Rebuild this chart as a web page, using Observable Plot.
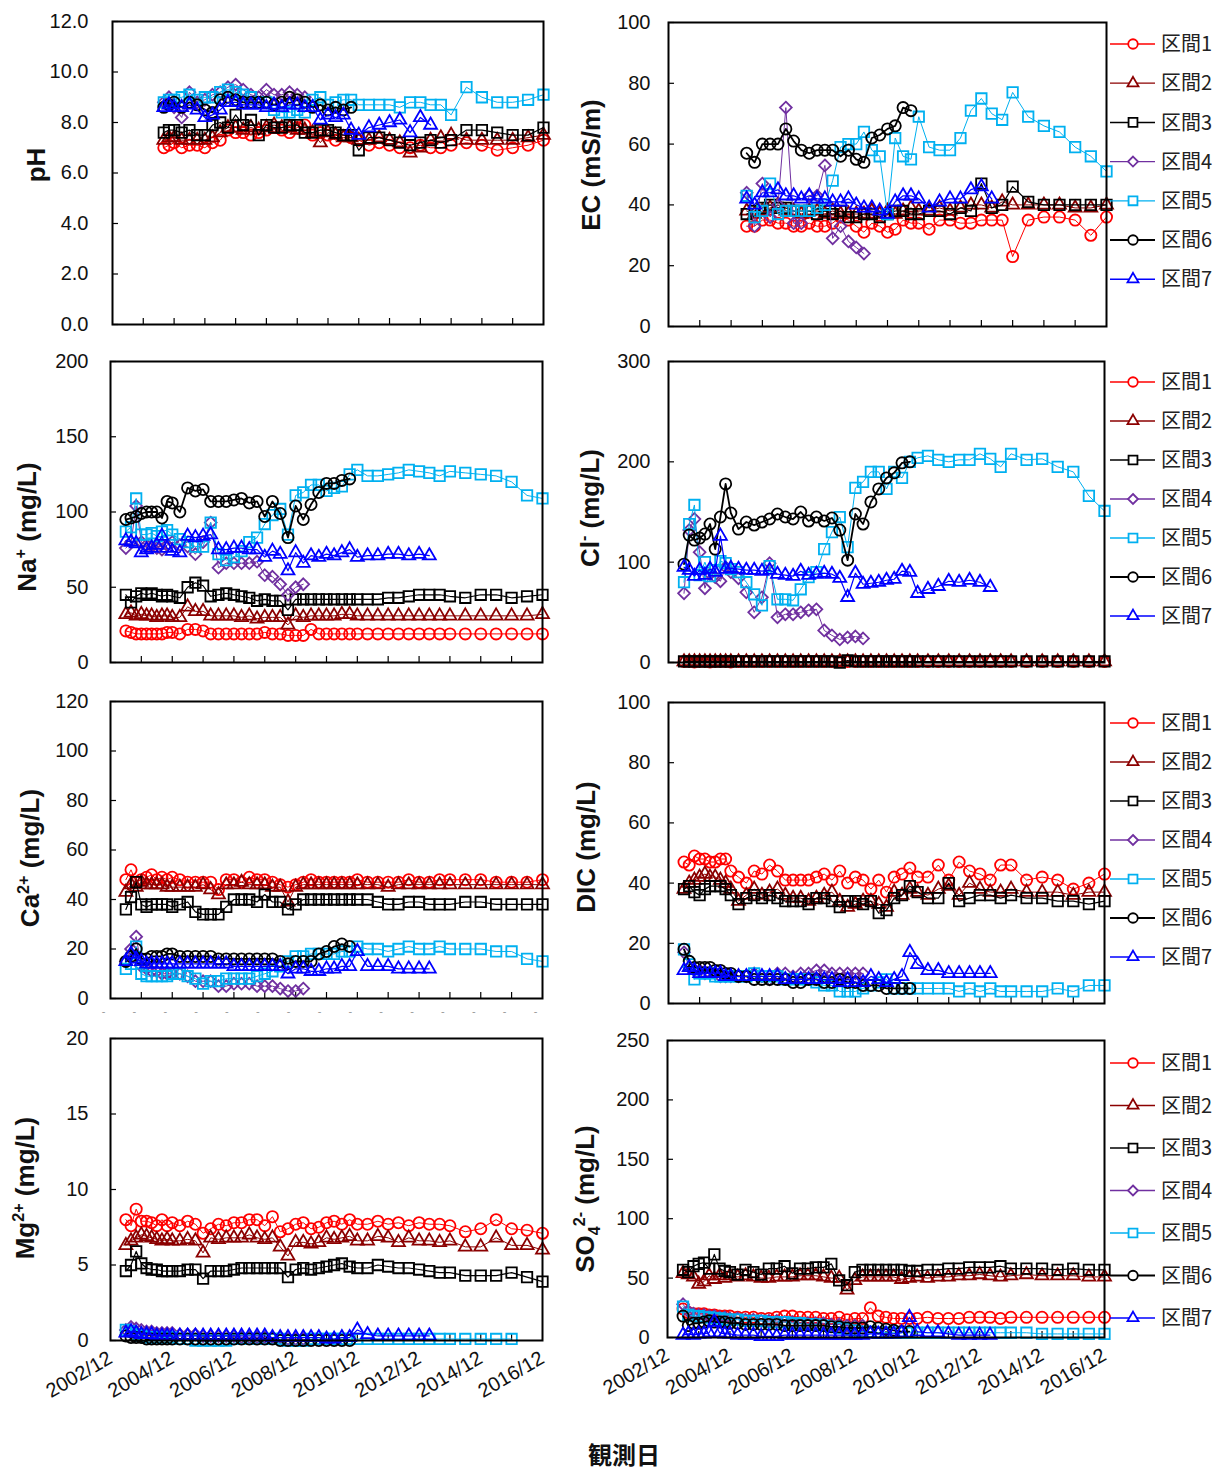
<!DOCTYPE html>
<html><head><meta charset="utf-8">
<script src="https://cdn.jsdelivr.net/npm/d3@7"></script>
<script src="https://cdn.jsdelivr.net/npm/@observablehq/plot@0.6"></script>
<style>
body{margin:0;background:#fff;}
#root{position:relative;width:1224px;height:1470px;background:#fff;overflow:hidden;}
.pl{position:absolute;overflow:visible;}
.yt{position:absolute;white-space:nowrap;line-height:1;font:bold 26px "Liberation Sans",Arial,sans-serif;color:#111;transform:translate(-50%,-50%) rotate(-90deg);}
.yt sup,.yt sub{font-size:0.62em;}
</style></head><body><div id="root"></div>
<script>
// ---- sampling dates (shared) ----
const sampleDates = ["2003-06","2003-08","2003-10","2003-12","2004-02","2004-04","2004-06","2004-08","2004-10","2004-12",
"2005-03","2005-06","2005-09","2005-12","2006-03","2006-06","2006-09","2006-12","2007-03","2007-06",
"2007-09","2007-12","2008-03","2008-06","2008-09","2008-12","2009-03","2009-06","2009-09","2009-12",
"2010-03","2010-06","2010-09","2010-12","2011-04","2011-08","2011-12","2012-04","2012-08","2012-12",
"2013-04","2013-08","2013-12","2014-06","2014-12","2015-06","2015-12","2016-06","2016-12"];
const series = ["区間1","区間2","区間3","区間4","区間5","区間6","区間7"];
const xTickLabels = ["2002/12","2004/12","2006/12","2008/12","2010/12","2012/12","2014/12","2016/12"];
const yearTickLabels = ["2002/12","2003/12","2004/12","2005/12","2006/12","2007/12","2008/12","2009/12","2010/12","2011/12","2012/12","2013/12","2014/12","2015/12","2016/12"];

// ---- pH (starts at sample index 7) ----
const ph_start = 7;
const ph_1 = [7.0,7.1,7.2,7.0,7.1,7.1,7.0,7.2,7.3,7.7,7.6,7.6,7.5,7.6,7.7,7.8,7.7,7.6,7.8,7.9,7.5,7.6,7.5,7.3,7.5,7.4,7.3,7.1,7.2,7.1,7.0,7.0,7.1,7.0,7.0,7.1,7.2,7.1,6.9,7.0,7.1,7.3];
const ph_2 = [7.3,7.4,7.4,7.3,7.3,7.3,7.3,7.4,7.6,7.8,7.8,7.7,7.8,7.7,7.8,7.9,7.8,7.8,7.7,7.7,7.6,7.2,7.6,7.5,7.4,7.4,7.3,7.3,7.4,7.3,7.2,6.8,7.0,7.3,7.4,7.5,7.3,7.3,7.3,7.3,7.4,7.5];
const ph_3 = [7.6,7.7,7.7,7.6,7.7,7.5,7.5,7.9,8.0,7.8,8.3,7.9,8.1,7.5,7.9,7.8,7.8,7.9,7.9,7.6,7.6,7.7,7.7,7.6,7.5,7.5,6.9,7.4,7.4,7.3,7.2,7.1,7.2,7.3,7.2,7.3,7.7,7.7,7.6,7.5,7.5,7.8];
const ph_4 = [8.8,9.0,8.6,8.2,9.2,8.8,8.9,9.1,9.2,9.4,9.5,9.3,9.1,9.0,9.3,9.1,9.1,9.2,9.1,9.0];
const ph_5 = [8.8,8.9,8.9,9.0,9.1,8.9,9.0,9.0,9.2,9.3,9.2,9.1,9.0,8.8,8.8,8.5,8.4,8.4,8.5,8.4,8.9,9.0,8.7,8.8,8.9,8.9,8.7,8.7,8.7,8.7,8.6,8.8,8.8,8.7,8.7,8.3,9.4,9.0,8.8,8.8,8.9,9.1];
const ph_6 = [8.6,8.7,8.8,8.6,8.8,8.7,8.5,8.4,8.9,9.0,8.9,8.8,8.8,8.8,8.8,8.7,8.8,9.0,8.9,8.8,8.6,8.7,8.5,8.6,8.5,8.6];
const ph_7 = [8.6,8.7,8.6,8.6,8.7,8.5,8.2,8.3,8.5,8.8,8.8,8.7,8.7,8.7,8.6,8.7,8.6,8.7,8.7,8.6,8.6,8.1,8.3,8.2,8.3,7.7,7.5,7.8,7.9,8.0,8.1,7.6,8.2,7.9];

// ---- EC (starts at sample index 11) ----
const ec_start = 11;
const ec_1 = [33,33,35,35,34,34,33,33,34,33,33,34,36,35,33,31,34,33,31,32,35,34,34,32,35,35,34,34,35,35,35,23,35,36,36,35,30,36];
const ec_2 = [38,37,38,39,40,38,38,37,38,38,37,38,37,37,37,37,38,37,38,37,38,39,38,38,39,38,39,40,40,39,41,40,40,40,40,39,39,40];
const ec_3 = [37,38,39,40,39,39,38,38,38,37,38,37,38,36,36,37,37,36,37,38,38,37,37,38,38,37,39,38,47,39,40,46,41,40,40,40,40,40];
const ec_4 = [44,33,47,36,40,72,34,34,43,43,53,29,33,28,26,24];
const ec_5 = [43,36,38,47,37,38,38,38,38,39,40,48,59,60,60,64,58,56,37,62,56,55,69,59,58,58,62,71,75,70,68,77,69,66,64,59,56,51];
const ec_6 = [57,54,60,60,60,65,61,58,57,58,58,58,56,58,55,54,62,63,65,66,72,71];
const ec_7 = [42,40,44,44,45,43,43,42,43,42,42,41,41,42,40,39,39,38,37,41,43,43,42,39,41,42,42,45,46,42];

// ---- Na+ ----
const na_1 = [21,20,19,19,19,19,19,19,20,20,19,22,22,21,19,19,19,19,19,19,19,20,19,19,18,18,18,22,19,19,19,19,19,19,19,19,19,19,19,19,19,19,19,19,19,19,19,19,19];
const na_2 = [32,33,31,32,31,31,30,31,31,30,30,37,34,34,31,31,31,31,30,31,29,30,30,30,25,31,30,31,31,31,31,32,32,31,31,31,31,31,31,31,31,31,31,31,31,31,31,31,32];
const na_3 = [45,40,44,46,45,46,45,44,45,44,43,50,53,51,44,45,46,45,44,43,41,42,41,41,35,42,42,42,42,42,42,42,42,42,42,42,43,43,44,45,45,45,44,43,45,45,43,44,45];
const na_4 = [76,80,104,80,78,77,76,75,78,80,78,77,72,80,93,63,66,66,66,66,67,58,57,52,45,50,52];
const na_5 = [87,90,109,85,85,86,84,87,88,85,82,80,77,77,93,72,68,70,74,80,83,92,98,102,85,111,113,118,118,114,116,117,125,128,124,124,125,126,128,127,126,124,127,126,125,124,120,111,109];
const na_6 = [95,96,97,99,100,100,100,96,107,106,100,116,114,115,107,107,107,108,109,106,107,97,107,99,83,104,95,105,113,119,119,121,122];
const na_7 = [81,80,79,73,75,76,78,84,76,74,73,84,83,84,85,75,75,76,76,75,75,70,74,72,61,73,66,71,70,72,71,73,75,70,71,71,72,72,71,72,71];

// ---- Cl- ----
const cl_1 = [1,1,0.5,1,1,0.5,1,1,1,0.5,1,1,1,1,1,1,1,1,1,1,1,1,1,1,1,1,1,1,1,1,1,1,1,1,1,1,1,1,1,1,1,1,1,1,1,1,1,1,1];
const cl_2 = [0.8,0.8,0.8,0.8,0.8,0.8,0.8,0.8,0.8,0.8,0.8,0.8,0.8,0.8,0.8,0.8,0.8,0.8,0.8,0.8,0.8,0.8,0.8,0.8,0.8,0.8,0.8,0.8,0.8,0.8,0.8,0.8,0.8,0.8,0.8,0.8,0.8,0.8,0.8,0.8,0.8,0.8,0.8,0.8,0.8,0.8,0.8,0.8,0.8];
const cl_3 = [1,1,1,1,1,1,1,1,1,1,1,1,1,1,1,1,1,1,1,1,1,1,1,0,2,1,1,1,1,1,1,1,1,1,1,1,1,1,1,1,1,1,1,1,1,1,1,1,1];
const cl_4 = [69,132,143,110,74,88,85,81,95,90,84,70,50,65,99,45,48,48,50,52,53,32,27,23,25,26,24];
const cl_5 = [80,138,157,87,100,86,92,101,99,93,90,80,68,57,96,63,63,62,73,85,90,113,130,145,115,174,180,190,190,173,190,184,200,204,206,202,200,202,202,208,203,195,208,202,203,195,190,166,151];
const cl_6 = [98,127,122,124,128,138,113,145,178,149,133,140,137,140,143,148,145,143,150,141,145,141,144,132,102,148,138,160,173,184,189,199,200];
const cl_7 = [95,92,86,92,87,93,90,126,93,94,93,92,92,91,92,88,87,86,91,87,88,89,88,84,65,89,78,79,80,82,83,91,90,69,73,76,81,80,82,80,75];

// ---- Ca2+ ----
const ca_1 = [48,52,47,48,49,50,48,49,48,49,48,47,47,47,47,44,48,48,47,49,48,48,47,46,45,46,47,48,47,47,47,47,47,48,47,47,47,47,48,47,47,48,48,48,48,47,47,47,48];
const ca_2 = [43,46,45,47,46,46,46,46,45,45,45,45,45,46,44,42,46,46,47,46,46,46,45,45,39,45,46,46,46,46,46,46,46,46,46,46,45,46,46,46,46,46,46,46,46,46,46,46,46];
const ca_3 = [36,41,47,38,37,38,38,38,38,37,38,39,35,34,34,34,37,40,40,40,39,42,39,39,36,38,40,40,40,40,40,40,40,40,40,39,38,38,39,39,38,38,38,39,39,38,38,38,38];
const ca_4 = [15,20,25,13,12,11,11,10,10,10,10,9,7,7,7,5,5,6,6,6,5,5,5,4,3,3,4];
const ca_5 = [12,14,21,10,9,9,9,9,9,10,10,9,8,6,7,7,8,8,8,8,9,10,11,13,15,17,17,18,18,18,18,19,19,21,20,20,19,20,21,20,20,21,20,20,20,19,19,16,15];
const ca_6 = [15,17,20,16,16,17,17,17,18,18,17,17,17,17,17,16,16,16,16,16,16,16,16,15,14,15,15,15,18,19,21,22,21];
const ca_7 = [15,18,16,15,14,14,14,14,14,14,14,14,14,14,14,14,14,13,13,13,13,13,13,13,10,12,12,11,11,12,12,13,13,19,13,13,13,12,12,12,12];

// ---- DIC ----
const dic_1 = [47,46,49,48,48,47,47,48,48,44,42,40,44,43,46,44,41,41,41,41,42,43,41,44,40,42,41,38,41,37,42,43,45,42,42,46,41,47,44,43,41,46,46,41,42,41,38,40,43];
const dic_2 = [38,40,41,42,43,42,42,41,40,38,34,36,38,36,37,38,36,35,35,34,35,36,37,34,32,33,34,34,33,32,37,36,38,37,36,38,39,36,40,38,37,37,38,37,37,37,36,37,37];
const dic_3 = [38,39,37,36,38,39,39,39,38,36,33,35,36,35,36,35,34,34,34,33,35,35,34,32,34,34,33,34,30,31,35,36,39,37,35,35,40,34,35,36,36,35,36,35,35,34,34,33,34];
const dic_4 = [17,12,11,11,10,10,10,9,9,9,9,9,10,9,8,10,10,9,10,10,11,11,10,10,10,10,10];
const dic_5 = [18,13,8,10,10,10,9,9,9,9,9,9,10,9,9,9,8,8,8,8,7,6,6,4,4,4,5,6,7,8,5,5,5,5,5,5,5,4,5,4,5,4,4,4,4,5,4,6,6];
const dic_6 = [18,14,12,12,12,12,11,11,10,10,9,9,8,8,8,8,8,7,7,8,8,7,7,8,7,7,6,6,6,5,5,5,5];
const dic_7 = [11,12,11,10,10,10,10,10,9,9,9,9,9,9,9,9,8,8,8,8,8,8,8,7,8,7,7,9,8,7,8,9,17,13,11,11,10,10,10,10,10];

// ---- Mg2+ ----
const mg_1 = [8.0,7.6,8.7,7.9,7.9,7.8,7.6,8.0,7.6,7.8,7.6,7.9,7.7,7.1,7.4,7.7,7.6,7.8,7.8,8.0,8.0,7.6,8.2,7.2,7.4,7.7,7.8,7.4,7.5,7.8,7.9,7.7,8.0,7.7,7.7,7.9,7.7,7.8,7.6,7.8,7.7,7.7,7.6,7.2,7.4,8.0,7.4,7.3,7.1];
const mg_2 = [6.3,6.6,6.8,7.0,6.9,6.8,6.7,6.6,6.7,6.6,6.6,6.7,6.6,5.8,6.8,6.7,6.8,6.8,6.8,7.0,6.8,6.7,6.8,6.2,5.6,6.5,6.5,6.4,6.5,6.8,6.7,6.8,6.9,6.6,6.6,6.9,6.8,6.5,6.8,6.6,6.6,6.5,6.6,6.2,6.2,6.8,6.3,6.3,6.0];
const mg_3 = [4.6,5.0,5.9,5.1,4.8,4.7,4.7,4.6,4.6,4.6,4.6,4.7,4.7,4.1,4.6,4.6,4.6,4.7,4.8,4.8,4.8,4.8,4.8,4.8,4.2,4.7,4.8,4.7,4.8,4.9,5.0,5.1,4.9,4.8,4.8,5.0,4.9,4.8,4.8,4.7,4.6,4.5,4.5,4.3,4.3,4.3,4.5,4.2,3.9];
const mg_4 = [0.7,0.9,0.8,0.7,0.6,0.6,0.5,0.5,0.5,0.5,0.4,0.4,0.4,0.3,0.3,0.3,0.3,0.3,0.2,0.2,0.2,0.2,0.2,0.2,0.1,0.1,0.1];
const mg_5 = [0.7,0.6,0.4,0.3,0.2,0.2,0.2,0.2,0.2,0.2,0.1,0.1,0.0,0.0,0.0,0.0,0.0,0.1,0.1,0.1,0.1,0.1,0.1,0.1,0.0,0.0,0.0,0.1,0.1,0.1,0.1,0.1,0.1,0.1,0.1,0.1,0.1,0.1,0.1,0.1,0.1,0.1,0.1,0.1,0.1,0.1,0.1];
const mg_6 = [0.3,0.2,0.2,0.2,0.1,0.1,0.1,0.1,0.1,0.1,0.1,0.1,0.1,0.1,0.1,0.1,0.1,0.1,0.1,0.1,0.1,0.1,0.1,0.0,0.0,0.0,0.0,0.0,0.0,0.0,0.0,0.0,0.0];
const mg_7 = [0.5,0.6,0.5,0.4,0.4,0.4,0.3,0.3,0.3,0.3,0.3,0.3,0.3,0.3,0.3,0.3,0.3,0.3,0.3,0.3,0.3,0.3,0.2,0.2,0.2,0.2,0.2,0.2,0.2,0.1,0.1,0.2,0.2,0.7,0.4,0.3,0.3,0.3,0.3,0.3,0.3];

// ---- SO4 2- ----
const so4_1 = [24,21,20,20,20,19,19,18,18,18,17,17,17,16,16,17,18,18,17,17,17,16,16,17,15,16,16,25,18,17,16,16,16,16,17,16,16,16,17,17,17,16,17,17,17,17,17,17,17];
const so4_2 = [54,53,51,45,47,52,49,52,50,52,51,52,51,50,50,51,51,51,52,52,52,51,50,50,40,48,51,51,51,51,51,49,50,51,50,51,51,52,52,53,52,51,52,53,52,52,52,51,51];
const so4_3 = [57,55,60,62,63,58,70,58,56,55,53,57,55,53,58,58,60,54,58,58,59,59,62,48,44,55,57,57,57,57,57,57,56,56,57,57,58,58,59,59,59,60,58,58,58,57,58,57,57];
const so4_4 = [28,22,20,19,19,18,18,17,17,16,16,15,15,14,14,14,13,13,12,12,12,12,11,11,10,10,10];
const so4_5 = [26,19,18,18,17,17,16,16,15,15,15,14,14,14,13,13,13,12,12,11,11,10,9,8,7,6,5,5,4,4,4,4,4,4,4,4,4,4,4,4,4,4,4,4,3,3,3,3,3];
const so4_6 = [18,10,12,12,13,14,13,13,13,12,12,11,11,11,11,11,10,10,10,10,10,10,9,9,8,8,8,9,8,7,6,5,5];
const so4_7 = [2,3,2,3,3,4,13,4,3,3,2,2,2,1,1,1,2,2,2,2,2,2,2,2,2,2,2,3,3,3,3,4,17,5,4,4,3,2,2,2,2];

// ---- styling ----
const seriesColors = ["#ff0000","#8b0000","#000000","#7030a0","#00b0f0","#000000","#0000ff"];
const seriesShapes = ["circle","triangle","square","diamond","square","circle","triangle"];
const lineWidths = [1, 1, 1.2, 1, 1, 1.8, 1.2];
const symMap = {circle: d3.symbolCircle, triangle: d3.symbolTriangle, square: d3.symbolSquare, diamond: d3.symbolDiamond2 || d3.symbolDiamond};
const rMap = {circle: 5.6, triangle: 4.8, square: 5.9, diamond: 5.3};

const parseM = d3.utcParse("%Y-%m");
const parseS = d3.utcParse("%Y/%m");
const dates = sampleDates.map(parseM);
const xDomain = [parseS("2002/12"), parseS("2016/12")];
const xLabelDates = xTickLabels.map(parseS);
const yearDates = yearTickLabels.map(parseS);
const innerYears = yearDates.slice(1, -1);

const root = document.getElementById("root");
const FONT = '"Liberation Sans", Arial, sans-serif';

const panels = [
  {L:112,R:543,T:21,B:324, start:ph_start, vals:[ph_1,ph_2,ph_3,ph_4,ph_5,ph_6,ph_7], yMax:12, step:2, fmt:d3.format(".1f"), pad:24, title:"pH", tx:36, ty:165},
  {L:668,R:1106,T:22,B:326, start:ec_start, vals:[ec_1,ec_2,ec_3,ec_4,ec_5,ec_6,ec_7], yMax:100, step:20, fmt:d3.format("d"), pad:18, title:"EC (mS/m)", tx:591, ty:165, legend:[44,39.2]},
  {L:110,R:542,T:361,B:662, start:0, vals:[na_1,na_2,na_3,na_4,na_5,na_6,na_7], yMax:200, step:50, fmt:d3.format("d"), pad:22, title:"Na<sup>+</sup> (mg/L)", tx:27, ty:527},
  {L:668,R:1104,T:361,B:662, start:0, vals:[cl_1,cl_2,cl_3,cl_4,cl_5,cl_6,cl_7], yMax:300, step:100, fmt:d3.format("d"), pad:18, title:"Cl<sup>-</sup> (mg/L)", tx:590, ty:508, legend:[382,39]},
  {L:110,R:542,T:701,B:998, start:0, vals:[ca_1,ca_2,ca_3,ca_4,ca_5,ca_6,ca_7], yMax:120, step:20, fmt:d3.format("d"), pad:22, title:"Ca<sup>2+</sup> (mg/L)", tx:30, ty:858, dashes:true},
  {L:668,R:1104,T:702,B:1003, start:0, vals:[dic_1,dic_2,dic_3,dic_4,dic_5,dic_6,dic_7], yMax:100, step:20, fmt:d3.format("d"), pad:18, title:"DIC (mg/L)", tx:586, ty:847, legend:[723,39]},
  {L:110,R:542,T:1038,B:1340, start:0, vals:[mg_1,mg_2,mg_3,mg_4,mg_5,mg_6,mg_7], yMax:20, step:5, fmt:d3.format("d"), pad:22, title:"Mg<sup>2+</sup> (mg/L)", tx:25, ty:1188, bottom:true},
  {L:667,R:1104,T:1040,B:1337, start:0, vals:[so4_1,so4_2,so4_3,so4_4,so4_5,so4_6,so4_7], yMax:250, step:50, fmt:d3.format("d"), pad:18, title:"SO<sub>4</sub><sup>2-</sup> (mg/L)", tx:587, ty:1199, bottom:true, legend:[1063,42.5]}
];

for (const p of panels) {
  const W = p.R - p.L, H = p.B - p.T;
  const mL = 110, mT = 24, mR = 24, mB = p.bottom ? 110 : 30;
  const yTicks = d3.range(0, p.yMax + p.step / 2, p.step);
  const marks = [];
  marks.push(Plot.ruleY(yTicks, {y: d => d, insetRight: W - 6, stroke: "#000", strokeWidth: 1.2}));
  marks.push(Plot.ruleX(innerYears, {x: d => d, insetTop: H - 6, stroke: "#000", strokeWidth: 1.2}));
  if (p.dashes) marks.push(Plot.text(yearDates, {x: d => d, text: () => "-", frameAnchor: "bottom", dy: 16, dx: -7, fill: "#999", fontSize: 11}));
  p.vals.forEach((arr, k) => {
    const rows = arr.map((v, i) => ({date: dates[p.start + i], v})).filter(d => d.v != null && d.date);
    const shape = seriesShapes[k];
    marks.push(Plot.line(rows, {x: "date", y: "v", stroke: seriesColors[k], strokeWidth: lineWidths[k]}));
    marks.push(Plot.dot(rows, {x: "date", y: "v", stroke: seriesColors[k], fill: "none", symbol: symMap[shape], r: rMap[shape], strokeWidth: 1.8}));
  });
  marks.push(Plot.axisY({ticks: yTicks, tickFormat: p.fmt, tickSize: 0, tickPadding: p.pad, fontSize: 20, label: null}));
  if (p.bottom) marks.push(Plot.axisX({ticks: xLabelDates, tickFormat: d3.utcFormat("%Y/%m"), tickRotate: -30, tickSize: 0, tickPadding: 16, fontSize: 20, label: null}));
  marks.push(Plot.frame({stroke: "#000", strokeWidth: 2}));
  const svg = Plot.plot({
    width: W + mL + mR, height: H + mT + mB,
    marginLeft: mL, marginRight: mR, marginTop: mT, marginBottom: mB,
    x: p.bottom ? {type: "utc", domain: xDomain} : {type: "utc", domain: xDomain, axis: null},
    y: {domain: [0, p.yMax]},
    style: {fontFamily: FONT, fontSize: "20px", color: "#111", background: "transparent", overflow: "visible"},
    marks
  });
  svg.classList.add("pl");
  svg.style.left = (p.L - mL) + "px";
  svg.style.top = (p.T - mT) + "px";
  root.appendChild(svg);

  const t = document.createElement("div");
  t.className = "yt";
  t.innerHTML = p.title;
  t.style.left = p.tx + "px";
  t.style.top = p.ty + "px";
  root.appendChild(t);

  if (p.legend) {
    const [top, step] = p.legend;
    const lg = d3.create("svg").attr("width", 124).attr("height", step * 6 + 40)
      .style("position", "absolute").style("left", "1100px").style("top", (top - 20) + "px");
    series.forEach((name, k) => {
      const g = lg.append("g").attr("transform", `translate(0,${20 + k * step})`);
      g.append("line").attr("x1", 10).attr("x2", 55).attr("y1", 0).attr("y2", 0)
        .attr("stroke", seriesColors[k]).attr("stroke-width", lineWidths[k] + 0.3);
      const shape = seriesShapes[k];
      const rr = rMap[shape] * 0.85;
      g.append("path").attr("d", d3.symbol(symMap[shape], Math.PI * rr * rr)())
        .attr("transform", "translate(33,0)").attr("fill", "#fff")
        .attr("stroke", seriesColors[k]).attr("stroke-width", 1.8);
      g.append("text").attr("x", 61).attr("dy", "0.36em").text(name)
        .attr("font-family", '"Noto Sans CJK JP", sans-serif').attr("font-size", 20).attr("fill", "#222");
    });
    root.appendChild(lg.node());
  }
}

const xt = document.createElement("div");
xt.textContent = "観測日";
xt.style.cssText = 'position:absolute;left:624px;top:1454px;transform:translate(-50%,-50%);font:bold 24px "Noto Sans CJK JP",sans-serif;color:#111;line-height:1;';
root.appendChild(xt);
</script>
</body></html>
